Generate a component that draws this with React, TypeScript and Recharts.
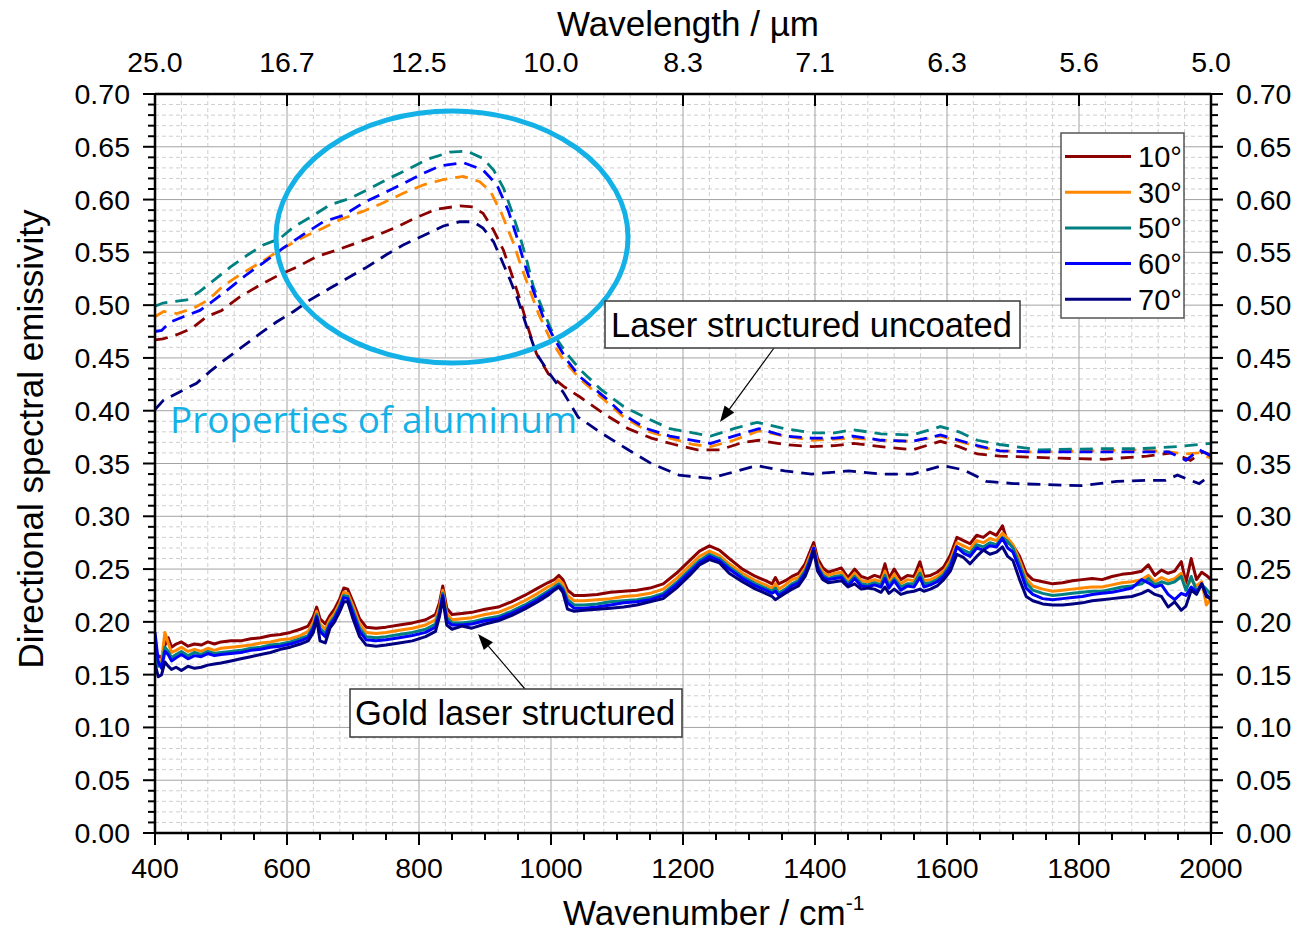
import React from 'react';
import { LineChart, Line, XAxis, YAxis, CartesianGrid } from 'recharts';

const FONT = '"Liberation Sans", Arial, sans-serif';

// angles of incidence and their colours
const angleLabels = ['10°', '30°', '50°', '60°', '70°'];
const angleColors = ['#8b0000', '#ff8800', '#008080', '#0000ff', '#000080'];

// laser structured, uncoated aluminium: [wavenumber, emissivity]
const uncoated10: [number, number][] = [
  [400, 0.467], [412, 0.468], [433, 0.472], [456, 0.478], [478, 0.489], [501, 0.495], [529, 0.508], [559, 0.519],
  [589, 0.529], [615, 0.536], [645, 0.546], [675, 0.552], [706, 0.559], [736, 0.566], [766, 0.574], [796, 0.583],
  [827, 0.591], [862, 0.594], [882, 0.593], [897, 0.587], [913, 0.571], [928, 0.552], [940, 0.53], [953, 0.505],
  [966, 0.477], [978, 0.454], [996, 0.435], [1019, 0.423], [1044, 0.413], [1083, 0.396], [1117, 0.383], [1152, 0.374],
  [1187, 0.368], [1222, 0.363], [1256, 0.363], [1291, 0.37], [1315, 0.372], [1354, 0.368], [1395, 0.366], [1430, 0.367],
  [1458, 0.369], [1500, 0.366], [1548, 0.363], [1590, 0.371], [1618, 0.366], [1646, 0.359], [1680, 0.357], [1730, 0.356],
  [1771, 0.355], [1837, 0.354], [1903, 0.357], [1942, 0.36], [1969, 0.353], [1988, 0.361], [2000, 0.358],
];
const uncoated30: [number, number][] = [
  [400, 0.489], [413, 0.494], [433, 0.492], [458, 0.497], [481, 0.505], [503, 0.518], [529, 0.529], [559, 0.54],
  [589, 0.552], [620, 0.563], [655, 0.573], [680, 0.581], [716, 0.589], [746, 0.597], [776, 0.606], [807, 0.614],
  [837, 0.619], [867, 0.622], [892, 0.617], [908, 0.608], [925, 0.587], [943, 0.559], [953, 0.54], [968, 0.514],
  [981, 0.492], [998, 0.469], [1019, 0.448], [1044, 0.43], [1083, 0.409], [1110, 0.394], [1145, 0.381], [1180, 0.374],
  [1215, 0.368], [1242, 0.366], [1277, 0.372], [1315, 0.381], [1354, 0.376], [1395, 0.372], [1430, 0.373], [1458, 0.374],
  [1500, 0.372], [1548, 0.371], [1590, 0.376], [1618, 0.371], [1646, 0.366], [1680, 0.362], [1730, 0.361], [1831, 0.362],
  [1890, 0.363], [1936, 0.361], [1962, 0.359], [1982, 0.36], [2000, 0.355],
];
const uncoated50: [number, number][] = [
  [400, 0.499], [412, 0.502], [448, 0.505], [468, 0.513], [486, 0.522], [514, 0.536], [539, 0.547], [564, 0.557],
  [589, 0.563], [610, 0.574], [640, 0.585], [665, 0.595], [695, 0.601], [721, 0.609], [751, 0.619], [781, 0.628],
  [812, 0.638], [847, 0.645], [872, 0.646], [897, 0.639], [913, 0.628], [928, 0.611], [940, 0.59], [953, 0.565],
  [963, 0.543], [973, 0.518], [988, 0.495], [1003, 0.473], [1024, 0.454], [1044, 0.439], [1076, 0.42], [1110, 0.404],
  [1145, 0.393], [1180, 0.383], [1215, 0.379], [1242, 0.376], [1277, 0.383], [1312, 0.389], [1354, 0.383], [1395, 0.379],
  [1430, 0.379], [1458, 0.382], [1500, 0.378], [1548, 0.377], [1590, 0.385], [1618, 0.38], [1646, 0.372], [1680, 0.368],
  [1739, 0.363], [1831, 0.364], [1890, 0.364], [1949, 0.366], [2000, 0.369],
];
const uncoated60: [number, number][] = [
  [400, 0.475], [410, 0.476], [423, 0.484], [443, 0.489], [468, 0.495], [486, 0.503], [509, 0.514], [539, 0.529],
  [564, 0.54], [594, 0.554], [625, 0.567], [655, 0.579], [685, 0.585], [716, 0.597], [746, 0.606], [776, 0.615],
  [807, 0.625], [832, 0.632], [867, 0.635], [897, 0.628], [918, 0.614], [935, 0.59], [948, 0.565], [958, 0.543],
  [973, 0.514], [988, 0.489], [1006, 0.467], [1024, 0.448], [1044, 0.432], [1083, 0.412], [1110, 0.396], [1145, 0.383],
  [1180, 0.376], [1215, 0.372], [1242, 0.369], [1277, 0.376], [1315, 0.383], [1354, 0.376], [1395, 0.374], [1430, 0.374],
  [1458, 0.376], [1500, 0.372], [1548, 0.371], [1590, 0.377], [1618, 0.372], [1646, 0.367], [1680, 0.362], [1730, 0.361],
  [1831, 0.361], [1890, 0.361], [1936, 0.361], [1962, 0.353], [1982, 0.363], [2000, 0.357],
];
const uncoated70: [number, number][] = [
  [400, 0.401], [413, 0.41], [438, 0.418], [463, 0.426], [483, 0.437], [503, 0.447], [529, 0.459], [559, 0.473],
  [584, 0.484], [610, 0.494], [635, 0.505], [665, 0.516], [690, 0.525], [721, 0.536], [751, 0.548], [776, 0.557],
  [807, 0.566], [837, 0.575], [862, 0.579], [882, 0.579], [897, 0.573], [913, 0.56], [925, 0.543], [938, 0.524],
  [950, 0.505], [963, 0.48], [978, 0.454], [998, 0.435], [1019, 0.417], [1041, 0.394], [1076, 0.379], [1117, 0.363],
  [1152, 0.35], [1194, 0.339], [1242, 0.336], [1277, 0.342], [1312, 0.348], [1354, 0.343], [1395, 0.34], [1451, 0.343],
  [1500, 0.34], [1548, 0.34], [1593, 0.348], [1625, 0.344], [1660, 0.333], [1701, 0.331], [1750, 0.33], [1804, 0.329],
  [1857, 0.333], [1903, 0.334], [1931, 0.334], [1949, 0.339], [1969, 0.334], [1982, 0.331], [2000, 0.339],
];

// gold coated, laser structured: shared wavenumber grid
const goldWn = [
  400, 405, 410, 415, 420, 425, 432, 440, 450, 460,
  470, 480, 490, 500, 515, 530, 545, 560, 575, 590,
  605, 620, 632, 640, 645, 650, 658, 665, 672, 680,
  686, 692, 700, 710, 720, 735, 750, 770, 790, 810,
  825, 831, 836, 842, 850, 865, 880, 900, 920, 940,
  960, 980, 995, 1005, 1012, 1018, 1025, 1035, 1050, 1070,
  1090, 1110, 1130, 1150, 1170, 1190, 1210, 1225, 1240, 1255,
  1270, 1290, 1310, 1325, 1335, 1340, 1345, 1355, 1365, 1375,
  1385, 1392, 1398, 1404, 1412, 1420, 1430, 1440, 1450, 1460,
  1470, 1480, 1490, 1500, 1506, 1512, 1520, 1530, 1540, 1550,
  1559, 1565, 1575, 1585, 1595, 1605, 1615, 1625, 1635, 1645,
  1655, 1665, 1675, 1684, 1692, 1700, 1710, 1720, 1730, 1745,
  1760, 1775, 1790, 1805, 1820, 1835, 1850, 1865, 1880, 1895,
  1905, 1915, 1925, 1935, 1945, 1955, 1962, 1970, 1978, 1986,
  1993, 2000,
];
const gold10 = [
  0.172, 0.168, 0.166, 0.178, 0.185, 0.176, 0.179, 0.181, 0.177, 0.179,
  0.178, 0.181, 0.179, 0.181, 0.182, 0.182, 0.184, 0.185, 0.187, 0.188,
  0.19, 0.193, 0.196, 0.205, 0.214, 0.203, 0.198, 0.206, 0.212, 0.222,
  0.232, 0.231, 0.219, 0.203, 0.195, 0.194, 0.195, 0.197, 0.199, 0.202,
  0.207, 0.218, 0.234, 0.213, 0.207, 0.208, 0.209, 0.212, 0.214, 0.219,
  0.225, 0.232, 0.237, 0.24, 0.244, 0.24, 0.23, 0.225, 0.225, 0.226,
  0.228, 0.229, 0.23, 0.232, 0.236, 0.246, 0.258, 0.267, 0.272, 0.268,
  0.26, 0.25, 0.243, 0.239, 0.236, 0.242, 0.236, 0.239, 0.243, 0.246,
  0.255, 0.266, 0.275, 0.26, 0.251, 0.247, 0.249, 0.251, 0.242, 0.25,
  0.243, 0.241, 0.244, 0.242, 0.255, 0.241, 0.25, 0.24, 0.244, 0.243,
  0.257, 0.243, 0.244, 0.247, 0.252, 0.263, 0.28, 0.277, 0.274, 0.282,
  0.28, 0.285, 0.282, 0.291, 0.275, 0.272, 0.262, 0.246, 0.24, 0.238,
  0.236, 0.237, 0.239, 0.24, 0.241, 0.24, 0.243, 0.245, 0.246, 0.248,
  0.254, 0.244, 0.249, 0.246, 0.248, 0.257, 0.237, 0.26, 0.24, 0.247,
  0.244, 0.24,
];
const gold30 = [
  0.165, 0.16, 0.163, 0.19, 0.18, 0.171, 0.173, 0.176, 0.172, 0.174,
  0.172, 0.175, 0.173, 0.175, 0.176, 0.177, 0.178, 0.18, 0.181, 0.183,
  0.184, 0.187, 0.191, 0.2, 0.21, 0.198, 0.193, 0.202, 0.208, 0.218,
  0.228, 0.227, 0.215, 0.198, 0.19, 0.189, 0.19, 0.192, 0.194, 0.197,
  0.202, 0.214, 0.23, 0.208, 0.202, 0.203, 0.204, 0.207, 0.209, 0.214,
  0.22, 0.227, 0.233, 0.236, 0.24, 0.236, 0.225, 0.22, 0.22, 0.221,
  0.222, 0.224, 0.225, 0.227, 0.231, 0.241, 0.253, 0.262, 0.267, 0.263,
  0.255, 0.246, 0.239, 0.235, 0.232, 0.236, 0.231, 0.235, 0.24, 0.242,
  0.251, 0.262, 0.271, 0.256, 0.247, 0.244, 0.246, 0.247, 0.239, 0.246,
  0.239, 0.238, 0.24, 0.238, 0.248, 0.237, 0.245, 0.236, 0.24, 0.239,
  0.25, 0.239, 0.24, 0.243, 0.248, 0.258, 0.275, 0.272, 0.269, 0.277,
  0.275, 0.279, 0.277, 0.284, 0.279, 0.273, 0.258, 0.241, 0.234, 0.231,
  0.229, 0.23, 0.231, 0.232, 0.233, 0.233, 0.235, 0.237, 0.238, 0.24,
  0.244, 0.238, 0.242, 0.239, 0.241, 0.246, 0.232, 0.24, 0.234, 0.238,
  0.216, 0.222,
];
const gold50 = [
  0.168, 0.158, 0.16, 0.176, 0.172, 0.166, 0.169, 0.172, 0.168, 0.171,
  0.169, 0.172, 0.17, 0.171, 0.172, 0.173, 0.175, 0.176, 0.178, 0.179,
  0.181, 0.184, 0.187, 0.196, 0.207, 0.194, 0.189, 0.199, 0.205, 0.215,
  0.225, 0.224, 0.211, 0.194, 0.186, 0.185, 0.186, 0.188, 0.19, 0.193,
  0.198, 0.21, 0.227, 0.204, 0.199, 0.199, 0.2, 0.203, 0.205, 0.21,
  0.216, 0.223, 0.229, 0.233, 0.236, 0.232, 0.221, 0.216, 0.216, 0.217,
  0.219, 0.22, 0.221, 0.223, 0.227, 0.237, 0.249, 0.258, 0.264, 0.26,
  0.252, 0.243, 0.236, 0.232, 0.229, 0.232, 0.227, 0.231, 0.236, 0.239,
  0.248, 0.259, 0.269, 0.253, 0.244, 0.241, 0.243, 0.244, 0.236, 0.243,
  0.236, 0.235, 0.237, 0.235, 0.244, 0.234, 0.241, 0.233, 0.236, 0.236,
  0.246, 0.236, 0.237, 0.24, 0.245, 0.255, 0.271, 0.268, 0.265, 0.273,
  0.271, 0.275, 0.273, 0.28, 0.276, 0.27, 0.254, 0.237, 0.23, 0.227,
  0.225, 0.226, 0.227, 0.228, 0.229, 0.229, 0.231, 0.233, 0.234, 0.236,
  0.241, 0.235, 0.238, 0.236, 0.238, 0.243, 0.23, 0.243, 0.229, 0.235,
  0.231, 0.226,
];
const gold60 = [
  0.19, 0.162, 0.156, 0.172, 0.169, 0.163, 0.166, 0.169, 0.165, 0.168,
  0.167, 0.17, 0.168, 0.169, 0.17, 0.171, 0.173, 0.174, 0.176, 0.177,
  0.179, 0.182, 0.185, 0.194, 0.205, 0.191, 0.186, 0.197, 0.203, 0.213,
  0.223, 0.222, 0.208, 0.191, 0.183, 0.182, 0.183, 0.185, 0.187, 0.19,
  0.195, 0.207, 0.225, 0.201, 0.197, 0.197, 0.198, 0.201, 0.203, 0.208,
  0.214, 0.221, 0.227, 0.231, 0.234, 0.23, 0.218, 0.213, 0.213, 0.214,
  0.216, 0.218, 0.219, 0.221, 0.225, 0.235, 0.247, 0.256, 0.262, 0.258,
  0.25, 0.241, 0.234, 0.23, 0.227, 0.229, 0.225, 0.229, 0.234, 0.237,
  0.246, 0.257, 0.27, 0.251, 0.242, 0.24, 0.241, 0.242, 0.234, 0.241,
  0.234, 0.233, 0.235, 0.233, 0.241, 0.232, 0.239, 0.23, 0.234, 0.233,
  0.242, 0.233, 0.235, 0.238, 0.243, 0.252, 0.271, 0.265, 0.262, 0.27,
  0.268, 0.272, 0.271, 0.279, 0.27, 0.266, 0.25, 0.232, 0.226, 0.222,
  0.221, 0.222, 0.223, 0.224, 0.226, 0.227, 0.228, 0.23, 0.232, 0.24,
  0.237, 0.233, 0.235, 0.226, 0.221, 0.227, 0.225, 0.233, 0.228, 0.236,
  0.226, 0.221,
];
const gold70 = [
  0.16, 0.148, 0.15, 0.162, 0.158, 0.155, 0.157, 0.154, 0.158, 0.156,
  0.157, 0.159, 0.16, 0.161, 0.163, 0.165, 0.167, 0.169, 0.171, 0.174,
  0.176, 0.179, 0.182, 0.19, 0.203, 0.182, 0.18, 0.194, 0.2, 0.21,
  0.219, 0.219, 0.203, 0.186, 0.178, 0.177, 0.178, 0.18, 0.182, 0.186,
  0.191, 0.205, 0.222, 0.197, 0.193, 0.196, 0.194, 0.198, 0.201, 0.206,
  0.212, 0.219, 0.225, 0.23, 0.233, 0.228, 0.212, 0.21, 0.211, 0.212,
  0.213, 0.214, 0.216, 0.219, 0.222, 0.232, 0.244, 0.254, 0.259, 0.256,
  0.246, 0.238, 0.231, 0.227, 0.224, 0.221, 0.223, 0.227, 0.231, 0.234,
  0.243, 0.254, 0.267, 0.248, 0.24, 0.237, 0.238, 0.239, 0.233, 0.236,
  0.231, 0.232, 0.231, 0.228, 0.233, 0.227, 0.231, 0.226, 0.228, 0.229,
  0.231, 0.229, 0.231, 0.234, 0.24, 0.248, 0.264, 0.261, 0.255, 0.262,
  0.268, 0.264, 0.266, 0.271, 0.262, 0.258, 0.24, 0.224, 0.22, 0.217,
  0.216, 0.216, 0.217, 0.218, 0.22, 0.221, 0.222, 0.223, 0.224, 0.227,
  0.23, 0.226, 0.224, 0.214, 0.219, 0.211, 0.215, 0.23, 0.226, 0.236,
  0.224, 0.222,
];

// axis ticks
const wavenumberMajor = [400, 600, 800, 1000, 1200, 1400, 1600, 1800, 2000];
const wavelengthLabels = ['25.0', '16.7', '12.5', '10.0', '8.3', '7.1', '6.3', '5.6', '5.0'];
const wavenumberTicks = Array.from({ length: 33 }, (_, i) => 400 + i * 50);
const wavenumberGrid = Array.from({ length: 41 }, (_, i) => 400 + i * 40).filter((v) => v % 200 !== 0);
const emissivityTicks = Array.from({ length: 71 }, (_, i) => i / 100);
const emissivityMajor = Array.from({ length: 15 }, (_, i) => (i * 5) / 100);
const emissivityGrid = emissivityTicks.filter((_, i) => i % 5 !== 0);

const pairs = (pts: [number, number][]) => pts.map(([wn, v]) => ({ wn, v }));
const onGrid = (vals: number[]) => goldWn.map((wn, i) => ({ wn, v: vals[i] }));

const uncoatedSeries = [uncoated10, uncoated30, uncoated50, uncoated60, uncoated70].map(pairs);
const goldSeries = [gold10, gold30, gold50, gold60, gold70].map(onGrid);

const isMajorY = (v: number) => Math.round(v * 100) % 5 === 0;
const TICK_FONT = 28.5;

const BottomTick = ({ x, y, payload }: any) => {
  const major = payload.value % 200 === 0;
  return (
    <g>
      <line x1={x} x2={x} y1={y} y2={y + (major ? 12 : 7)} stroke="#000" strokeWidth={2} />
      {major && (
        <text x={x} y={y + 45} textAnchor="middle" fontSize={TICK_FONT} fontFamily={FONT} fill="#000">
          {payload.value}
        </text>
      )}
    </g>
  );
};

const TopTick = ({ x, y, payload }: any) => {
  const idx = wavenumberMajor.indexOf(payload.value);
  return (
    <g>
      <line x1={x} x2={x} y1={y} y2={y + 12} stroke="#000" strokeWidth={2} />
      <text x={x} y={y - 22} textAnchor="middle" fontSize={TICK_FONT} fontFamily={FONT} fill="#000">
        {wavelengthLabels[idx]}
      </text>
    </g>
  );
};

const LeftTick = ({ x, y, payload }: any) => {
  const major = isMajorY(payload.value);
  return (
    <g>
      <line x1={x - (major ? 12 : 7)} x2={x} y1={y} y2={y} stroke="#000" strokeWidth={2} />
      {major && (
        <text x={x - 25} y={y + 10} textAnchor="end" fontSize={TICK_FONT} fontFamily={FONT} fill="#000">
          {payload.value.toFixed(2)}
        </text>
      )}
    </g>
  );
};

const RightTick = ({ x, y, payload }: any) => {
  const major = isMajorY(payload.value);
  return (
    <g>
      <line x1={x} x2={x + (major ? 12 : 7)} y1={y} y2={y} stroke="#000" strokeWidth={2} />
      {major && (
        <text x={x + 25} y={y + 10} textAnchor="start" fontSize={TICK_FONT} fontFamily={FONT} fill="#000">
          {payload.value.toFixed(2)}
        </text>
      )}
    </g>
  );
};

const Arrow = ({ x1, y1, x2, y2 }: { x1: number; y1: number; x2: number; y2: number }) => {
  const a = Math.atan2(y2 - y1, x2 - x1);
  const len = 16;
  const half = 6;
  const bx = x2 - len * Math.cos(a);
  const by = y2 - len * Math.sin(a);
  const px = -Math.sin(a) * half;
  const py = Math.cos(a) * half;
  return (
    <g>
      <line x1={x1} y1={y1} x2={bx} y2={by} stroke="#000" strokeWidth={1.2} />
      <polygon points={`${x2},${y2} ${bx + px},${by + py} ${bx - px},${by - py}`} fill="#000" />
    </g>
  );
};

const axisLine = { stroke: '#000', strokeWidth: 2.5 };

export default function App() {
  return (
    <div style={{ position: 'absolute', left: 0, top: 0, width: 1294, height: 932, background: '#fff' }}>
      <LineChart width={1294} height={932} margin={{ top: 0, right: 0, bottom: 0, left: 0 }}>
        <CartesianGrid
          verticalValues={wavenumberGrid}
          horizontalValues={emissivityGrid}
          stroke="#cfcfcf"
          strokeDasharray="4 3"
        />
        <CartesianGrid verticalValues={wavenumberMajor} horizontalValues={emissivityMajor} stroke="#a3a3a3" />
        <XAxis
          dataKey="wn"
          type="number"
          domain={[400, 2000]}
          ticks={wavenumberTicks}
          interval={0}
          height={99}
          tickSize={0}
          tickMargin={0}
          tickLine={false}
          axisLine={axisLine}
          tick={BottomTick}
          allowDataOverflow
        />
        <XAxis
          xAxisId="top"
          orientation="top"
          dataKey="wn"
          type="number"
          domain={[400, 2000]}
          ticks={wavenumberMajor}
          interval={0}
          height={94}
          tickSize={0}
          tickMargin={0}
          tickLine={false}
          axisLine={axisLine}
          tick={TopTick}
          allowDataOverflow
        />
        <YAxis
          type="number"
          domain={[0, 0.7]}
          ticks={emissivityTicks}
          interval={0}
          width={155}
          tickSize={0}
          tickMargin={0}
          tickLine={false}
          axisLine={axisLine}
          tick={LeftTick}
          allowDataOverflow
        />
        <YAxis
          yAxisId="right"
          orientation="right"
          type="number"
          domain={[0, 0.7]}
          ticks={emissivityTicks}
          interval={0}
          width={83}
          tickSize={0}
          tickMargin={0}
          tickLine={false}
          axisLine={axisLine}
          tick={RightTick}
          allowDataOverflow
        />
        {uncoatedSeries.map((data, i) => (
          <Line
            key={`uncoated-${i}`}
            data={data}
            dataKey="v"
            type="linear"
            stroke={angleColors[i]}
            strokeWidth={2.8}
            strokeDasharray="13 8"
            dot={false}
            activeDot={false}
            isAnimationActive={false}
          />
        ))}
        {goldSeries.map((data, i) => (
          <Line
            key={`gold-${i}`}
            data={data}
            dataKey="v"
            type="linear"
            stroke={angleColors[i]}
            strokeWidth={3}
            strokeLinejoin="round"
            dot={false}
            activeDot={false}
            isAnimationActive={false}
          />
        ))}
      </LineChart>

      <svg
        width={1294}
        height={932}
        style={{ position: 'absolute', left: 0, top: 0, pointerEvents: 'none' }}
        fontFamily={FONT}
      >
        {/* axis titles */}
        <text x={688} y={36} textAnchor="middle" fontSize={35} fill="#000">
          Wavelength / µm
        </text>
        <text x={563} y={925} fontSize={35} fill="#000">
          Wavenumber / cm
          <tspan dy={-15} fontSize={21}>
            -1
          </tspan>
        </text>
        <text transform="translate(43, 439) rotate(-90)" textAnchor="middle" fontSize={35} fill="#000">
          Directional spectral emissivity
        </text>

        {/* highlighted region */}
        <ellipse cx={452} cy={237} rx={176} ry={126} fill="none" stroke="#14b1e7" strokeWidth={5} />
        <text
          x={170}
          y={433}
          fontSize={36}
          fill="#14b1e7"
          fontFamily='"Open Sans", "Noto Sans", sans-serif'
          textLength={407}
          lengthAdjust="spacingAndGlyphs"
        >
          Properties of aluminum
        </text>

        {/* callouts */}
        <Arrow x1={774} y1={348} x2={720} y2={422} />
        <rect x={605} y={301} width={415} height={47} fill="#fff" stroke="#3a3a3a" strokeWidth={1.5} />
        <text x={611} y={337} fontSize={34.5} fill="#000">
          Laser structured uncoated
        </text>

        <Arrow x1={525} y1={689} x2={478} y2={634} />
        <rect x={350} y={689} width={332} height={48} fill="#fff" stroke="#3a3a3a" strokeWidth={1.5} />
        <text x={355} y={725} fontSize={34.5} fill="#000">
          Gold laser structured
        </text>

        {/* legend */}
        <rect x={1061} y={133} width={123} height={185} fill="#fff" stroke="#555" strokeWidth={1.5} />
        {angleLabels.map((label, i) => {
          const cy = 156.5 + i * 35.7;
          return (
            <g key={label}>
              <line x1={1065} x2={1131} y1={cy} y2={cy} stroke={angleColors[i]} strokeWidth={3} />
              <text x={1138} y={cy + 10.5} fontSize={29} fill="#000">
                {label}
              </text>
            </g>
          );
        })}
      </svg>
    </div>
  );
}
